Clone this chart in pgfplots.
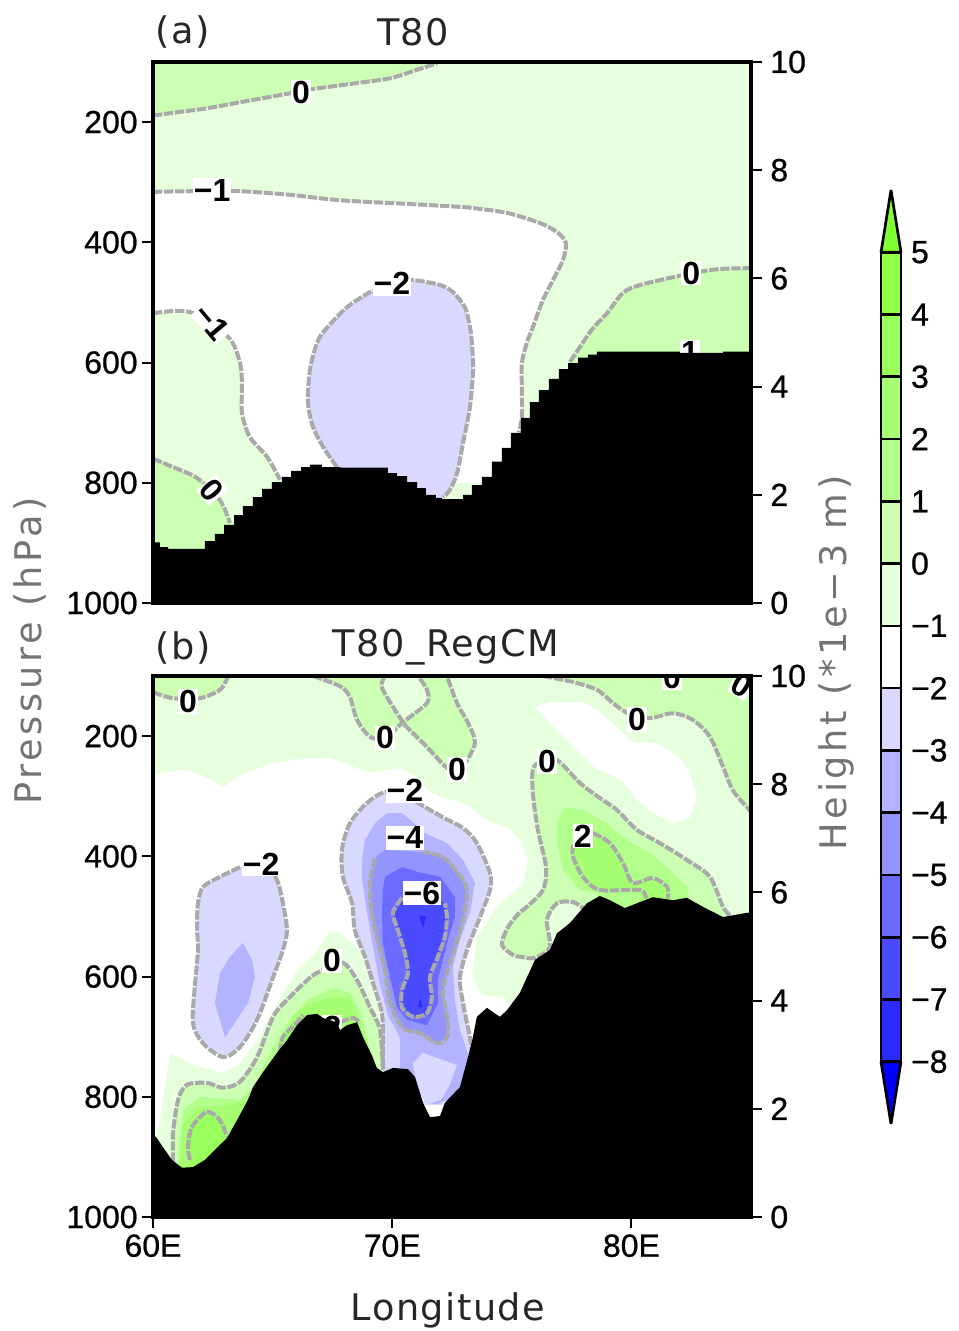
\documentclass[border=0pt]{standalone}
\usepackage{pgfplots}
\pgfplotsset{compat=1.18}
\usepackage{fontspec}
\setmainfont{Liberation Sans}
\newfontfamily\tickf[FakeBold=0.7]{Liberation Sans}
\newfontfamily\wideA[LetterSpace=10]{DejaVu Sans}
\newfontfamily\wideB[LetterSpace=4]{DejaVu Sans}
\definecolor{gA}{HTML}{E6FFDC}
\definecolor{gB}{HTML}{CCFFB3}
\definecolor{gC}{HTML}{B3FF8C}
\definecolor{gD}{HTML}{A6FF73}
\definecolor{gE}{HTML}{99FF5C}
\definecolor{gF}{HTML}{90FF47}
\definecolor{gG}{HTML}{80FF33}
\definecolor{bA}{HTML}{D9D9FF}
\definecolor{bB}{HTML}{B3B3FF}
\definecolor{bC}{HTML}{9494FF}
\definecolor{bD}{HTML}{6B6BFF}
\definecolor{bE}{HTML}{4A4AFF}
\definecolor{bF}{HTML}{2B2BFF}
\definecolor{bG}{HTML}{0000FF}
\definecolor{cgray}{HTML}{A9A9A9}
\newcommand\ticksz{\tickf\fontsize{24}{24}\selectfont}
\tikzset{lab/.style={fill=white, inner sep=0.8pt, text=black, font=\fontsize{24}{24}\selectfont\bfseries}}
\pgfplotsset{
  mainax/.style={
    scale only axis, width=448.5pt, height=405.75pt,
    xmin=60, xmax=85, ymin=100, ymax=1000, y dir=reverse,
    axis on top, no markers,
    ytick={200,400,600,800,1000},
    xtick pos=bottom, ytick pos=left, tick align=outside,
    major tick length=8pt,
    tick style={line width=1.5pt, black},
    axis line style={line width=2.7pt},
    ticklabel style={font=\ticksz},
    scaled y ticks=false,
    /pgf/number format/assume math mode=true,
    /pgf/number format/1000 sep={},
    axis background/.style={fill=gA},
  },
  rightax/.style={
    scale only axis, width=448.5pt, height=405.75pt,
    xmin=60, xmax=85, ymin=0, ymax=10,
    axis y line=right, axis x line=none, xtick=\empty,
    ytick={0,2,4,6,8,10}, tick align=outside, major tick length=8pt,
    tick style={line width=1.5pt, black},
    axis line style={-, line width=2.7pt},
    ticklabel style={font=\ticksz},
    yticklabel style={xshift=3pt},
    /pgf/number format/assume math mode=true,
  },
  reg/.style={fill=#1, draw=none, forget plot},
  cont/.style={draw=cgray, line width=3pt, dash pattern=on 7pt off 1.3pt, smooth, tension=0.5, forget plot},
}
\begin{document}
\begin{tikzpicture}
\path[use as bounding box] (0,0) rectangle (718.5pt,998.25pt);
% ---------- panel a ----------
\begin{axis}[mainax, at={(114.75pt,546pt)}, anchor=south west, xtick=\empty]
\addplot[reg=gB] coordinates {(60,100)(60,189)(60.13,188)(61.13,183)(62.26,177)(63.64,167)(65.73,152)(66.69,145)(68.53,135)(69.91,127)(71.04,113)(71.87,102)(71.9,100)} -- cycle;
\addplot[reg=white] coordinates {(60,316)(61.55,315)(63.64,315)(65.73,321)(67.82,330)(70.62,336)(72.83,341)(73.38,343)(74.8,351)(76.18,368)(76.89,383)(77.26,401)(77.14,429)(76.72,463)(76.3,496)(75.88,541)(75.63,567)(75.42,601)(75.42,641)(75.42,691)(75.3,716)(75.3,800)(65.31,800)(65.31,795)(64.77,757)(64.05,724)(63.72,684)(63.72,641)(63.64,601)(63.14,557)(61.55,516)(60,518)} -- cycle;
\addplot[reg=bA] coordinates {(69.07,483)(69.99,468)(70.87,463)(72,471)(72.54,483)(73.04,508)(73.25,541)(73.33,567)(73.38,612)(73.25,674)(72.96,734)(72.71,784)(72.41,812)(72.12,824)(72.12,840)(67.69,840)(67.69,774)(67.11,740)(66.69,707)(66.48,667)(66.56,612)(66.86,567)(67.19,546)(68.11,508)} -- cycle;
\addplot[reg=gB] coordinates {(60,760)(60.84,774)(61.84,792)(62.8,829)(63.22,867)(63.22,950)(60,950)} -- cycle;
\addplot[reg=gB] coordinates {(77.43,599)(77.97,567)(78.39,543)(78.98,518)(79.65,484)(80.36,471)(81.74,458)(82.99,448)(83.83,444)(85,443)(85,650)(77.43,650)} -- cycle;
% contours
\addplot[cont] coordinates {(60,189)(61.13,183)(62.26,177)(63.64,167)(65.73,152)(66.69,145)(68.53,135)(69.91,127)(71.04,113)(71.87,102)};
\addplot[cont] coordinates {(60,316)(61.55,315)(63.64,315)(65.73,321)(67.82,330)(70.62,336)(72.83,341)(73.38,343)(74.8,351)(76.18,368)(76.89,383)(77.26,401)(77.14,429)(76.72,463)(76.3,496)(75.88,541)(75.63,567)(75.42,601)(75.42,641)(75.42,691)(75.3,716)};
\addplot[cont] coordinates {(60,518)(61.55,516)(63.14,557)(63.64,601)(63.72,641)(63.72,684)(64.05,724)(64.77,757)(65.31,795)};
\addplot[cont] coordinates {(67.69,774)(67.11,740)(66.69,707)(66.48,667)(66.56,612)(66.86,567)(67.19,546)(68.11,508)(69.07,483)(69.99,468)(70.87,463)(72,471)(72.54,483)(73.04,508)(73.25,541)(73.33,567)(73.38,612)(73.25,674)(72.96,734)(72.71,784)(72.41,812)(72.12,824)};
\addplot[cont] coordinates {(60,760)(60.84,774)(61.84,792)(62.8,829)(63.22,867)};
\addplot[cont] coordinates {(77.43,599)(77.97,567)(78.39,543)(78.98,518)(79.65,484)(80.36,471)(81.74,458)(82.99,448)(83.83,444)(85,443)};
\node[lab] at (axis cs:82.45,583) {1};
% terrain
\addplot[fill=black, draw=none, const plot, forget plot] coordinates {(60,899)(60.29,907)(60.63,910)(62.17,897)(62.59,885)(62.97,870)(63.39,854)(63.76,839)(64.18,824)(64.56,810)(64.97,799)(65.39,790)(65.77,780)(66.19,774)(66.56,770)(67.06,774)(67.82,775)(69.82,784)(70.2,789)(70.62,799)(71.04,809)(71.41,820)(71.83,825)(72.08,827)(72.96,820)(73.33,804)(73.75,790)(74.17,765)(74.59,742)(74.96,717)(75.38,692)(75.76,666)(76.13,646)(76.55,627)(76.97,611)(77.35,601)(77.77,592)(78.18,587)(78.56,582)(81.32,582)(82.03,584)(83.83,582)(85,582)(85,1000)(60,1000)} -- cycle;
% contour labels
\node[lab] at (axis cs:66.19,150) {0};
\node[lab] at (axis cs:62.47,313) {−1};
\node[lab, rotate=-50] at (axis cs:62.47,533) {−1};
\node[lab] at (axis cs:69.99,469) {−2};
\node[lab, rotate=-50] at (axis cs:62.47,812) {0};
\node[lab] at (axis cs:82.5,451) {0};
\end{axis}
\begin{axis}[rightax, at={(114.75pt,546pt)}, anchor=south west]
\end{axis}
% ---------- panel b ----------
\begin{axis}[mainax, at={(114.75pt,85.5pt)}, anchor=south west,
  xtick={60,70,80}, xticklabels={60E,70E,80E}, xticklabel style={yshift=-1.5pt}]
% 0..1 top regions
\addplot[reg=gB] coordinates {(60,100)(60,127)(60.84,137)(61.96,137)(62.8,123)(63.09,105)(63.14,100)} -- cycle;
\addplot[reg=gB] coordinates {(66.69,100)(67.82,117)(68.23,135)(68.53,173)(69.07,201)(69.7,203)(70.45,177)(69.61,123)(69.61,107)(69.7,100)(71.08,100)(71.45,123)(71.45,145)(70.45,177)(70.74,190)(71.45,218)(72.29,253)(72.71,256)(73.13,240)(73.46,210)(73.17,178)(72.71,145)(72.29,100)} -- cycle;
\addplot[reg=gB] coordinates {(76.3,100)(77.56,110)(78.56,123)(79.23,145)(79.86,162)(80.77,170)(81.74,162)(82.57,173)(83.28,201)(83.83,251)(84.24,290)(84.87,320)(85,326)(85,100)} -- cycle;
% white
\addplot[reg=white] coordinates {(75.97,152)(76.59,143)(77.97,143)(78.68,160)(79.4,185)(80.06,210)(81.07,211)(82.03,235)(82.45,261)(82.74,301)(82.45,336)(81.74,345)(80.9,328)(80.23,306)(79.52,270)(78.56,256)(77.85,228)(77.01,195)} -- cycle;
\addplot[reg=white] coordinates {(60,265)(61.25,255)(62.26,270)(62.93,285)(63.64,265)(65.02,245)(66.44,236)(67.4,236)(68.36,251)(69.07,261)(70.32,253)(71.04,268)(71.58,293)(72,301)(72.96,311)(74.09,343)(74.92,353)(75.34,373)(75.68,406)(75.47,444)(74.38,484)(73.54,534)(73.33,601)(73.75,631)(74.63,636)(74.92,647)(74.92,839)(69.61,839)(69.61,755)(69.41,639)(68.65,556)(67.82,526)(67.4,523)(66.86,556)(66.02,589)(65.02,656)(64.35,706)(63.64,744)(62.93,760)(61.67,747)(60.71,727)(60.29,839)(60.13,867)(60,872)} -- cycle;
% green, right
\addplot[reg=gB] coordinates {(75.88,256)(76.18,243)(76.89,240)(77.85,278)(78.68,303)(79.4,323)(80.23,356)(81.19,378)(82.32,406)(83.28,434)(83.83,484)(84.12,498)(84.12,539)(77.97,539)(77.97,486)(77.56,476)(76.89,478)(76.47,506)(76.59,551)(75.97,569)(75.34,567)(75.05,564)(74.59,547)(74.84,518)(75.34,493)(75.63,484)(76.3,456)(76.43,418)(76.09,356)(75.88,295)} -- cycle;
\addplot[reg=gC] coordinates {(77.22,318)(77.97,323)(78.98,345)(79.81,373)(80.77,394)(81.61,423)(82.36,451)(82.36,506)(78.68,506)(78.56,461)(77.85,456)(77.14,423)(76.89,378)(76.93,340)} -- cycle;
\addplot[reg=gD] coordinates {(77.56,381)(77.85,365)(78.39,361)(79.1,378)(79.65,411)(80.06,444)(80.9,436)(81.49,451)(81.53,481)(80.44,481)(80.36,456)(78.68,456)(77.97,434)(77.56,401)} -- cycle;
% green, left
\addplot[reg=gB] coordinates {(60.84,915)(60.84,860)(61.05,805)(61.42,780)(62.26,777)(62.93,785)(63.64,775)(64.35,734)(65.02,667)(65.6,639)(66.56,602)(67.11,589)(67.94,577)(68.53,606)(69.07,651)(69.49,689)(69.61,755)(69.61,820)(65,900)(61.5,960)(60.84,960)} -- cycle;
\addplot[reg=gC] coordinates {(61.05,894)(61.25,822)(61.96,800)(63.64,805)(64.18,784)(65.02,717)(65.6,677)(66.44,639)(67.52,619)(68.23,627)(68.65,656)(69.07,722)(69.07,800)(65,900)(61.5,960)(61.05,960)} -- cycle;
\addplot[reg=gD] coordinates {(61.13,913)(61.25,847)(61.76,819)(63.22,814)(63.85,805)(64,900)(61.5,960)(61.13,960)} -- cycle;
\addplot[reg=gE] coordinates {(61.55,905)(61.46,884)(61.63,850)(62.26,825)(62.8,839)(63.09,867)(63,950)(61.6,950)} -- cycle;
\addplot[reg=gD] coordinates {(65.02,739)(65.85,667)(66.44,647)(67.52,634)(68.23,636)(68.53,661)(68.95,706)(68.95,789)(65.31,789)} -- cycle;
\addplot[reg=gE] coordinates {(65.31,727)(65.43,701)(66.02,676)(66.27,664)(66.5,700)(65.6,760)} -- cycle;
% blue, centre
\addplot[reg=bA] coordinates {(69.7,293)(70.53,298)(71.24,315)(72.12,335)(72.96,353)(73.54,378)(74.09,428)(74.09,456)(73.67,501)(73.17,551)(72.83,601)(72.96,644)(73.25,701)(73.33,739)(72.08,814)(71.45,814)(70.74,764)(69.61,764)(69.61,750)(69.61,711)(69.57,661)(69.2,611)(68.86,567)(68.44,523)(68.32,478)(67.94,434)(67.9,389)(68.23,345)(68.95,311)} -- cycle;
\addplot[reg=bB] coordinates {(69.78,328)(70.41,328)(70.87,343)(71.29,360)(72.29,378)(72.96,406)(73.46,444)(73.25,494)(72.83,539)(72.54,584)(72.62,639)(72.83,689)(73.25,739)(73.25,790)(71.9,812)(71.4,812)(70.9,764)(70.32,764)(70.32,701)(69.82,664)(69.49,614)(69.2,551)(68.95,494)(68.74,439)(68.74,406)(68.86,373)(69.28,345)} -- cycle;
\addplot[reg=bA] coordinates {(70.87,744)(71.29,727)(72.71,747)(72.41,780)(72.04,805)(71.37,814)(70.95,764)} -- cycle;
\addplot[reg=bC] coordinates {(69.28,403)(69.7,389)(71.29,393)(72.12,401)(72.75,428)(73.13,456)(72.96,506)(72.62,551)(72.29,594)(72.12,627)(72.33,677)(72.29,701)(71.91,711)(71.16,694)(70.45,686)(69.91,644)(69.7,589)(69.41,544)(69.15,494)(69.07,444)} -- cycle;
\addplot[reg=bD] coordinates {(69.7,434)(70.41,418)(71.08,426)(72,434)(72.62,468)(72.62,501)(72.33,539)(72.12,572)(71.91,606)(71.91,644)(71.45,681)(70.62,672)(70.2,651)(69.91,601)(69.61,544)(69.57,494)(69.61,456)} -- cycle;
\addplot[reg=bE] coordinates {(70.41,469)(70.03,494)(70.24,523)(70.53,561)(70.66,594)(70.41,622)(70.41,651)(70.87,667)(71.45,661)(71.66,634)(71.58,601)(71.91,567)(72.2,534)(72.29,501)(72.2,478)(71.58,464)(70.95,461)} -- cycle;
\addplot[reg=bF] coordinates {(71.12,499)(71.41,499)(71.29,519)} -- cycle;
\addplot[reg=bF] coordinates {(71.16,636)(71.08,651)(71.29,651)} -- cycle;
% blue, left
\addplot[reg=bA] coordinates {(63.64,418)(62.8,434)(62.09,451)(61.88,478)(61.84,518)(61.88,556)(61.76,611)(61.67,677)(62.09,711)(62.93,734)(63.64,717)(64.35,672)(65.02,601)(65.43,556)(65.6,523)(65.43,478)(65.18,439)(64.68,416)} -- cycle;
\addplot[reg=bB] coordinates {(63.76,544)(64.14,572)(64.26,601)(63.97,644)(63.01,701)(62.59,644)(62.8,594)(63.22,567)} -- cycle;
% contours
\addplot[cont] coordinates {(60,127)(60.84,137)(61.96,137)(62.8,123)(63.09,105)(63.14,100)};
\addplot[cont] coordinates {(66.69,100)(67.82,117)(68.23,135)(68.53,173)(69.07,201)(69.7,203)(70.45,177)(71.45,145)(71.45,123)(71.08,100)};
\addplot[cont] coordinates {(69.7,100)(69.61,107)(69.61,123)(70.45,177)(70.74,190)(71.45,218)(72.29,253)(72.71,256)(73.13,240)(73.46,210)(73.17,178)(72.71,145)(72.29,100)};
\addplot[cont] coordinates {(76.3,100)(77.56,110)(78.56,123)(79.23,145)(79.86,162)(80.77,170)(81.74,162)(82.57,173)(83.28,201)(83.83,251)(84.24,290)(84.87,320)(85,326)};
\addplot[cont] coordinates {(84.12,498)(83.83,484)(83.28,434)(82.32,406)(81.19,378)(80.23,356)(79.4,323)(78.68,303)(77.85,278)(76.89,240)(76.18,243)(75.88,256)(75.88,295)(76.09,356)(76.43,418)(76.3,456)(75.63,484)(75.34,493)(74.84,518)(74.59,547)(75.05,564)(75.34,567)(75.97,569)(76.59,551)(76.47,506)(76.89,478)(77.56,476)(77.97,486)};
\addplot[cont] coordinates {(78.39,361)(79.1,378)(79.65,411)(80.06,444)(80.9,436)(81.49,451)(81.53,470)};
\addplot[cont] coordinates {(77.56,381)(77.56,401)(77.97,434)(78.68,456)(80.36,456)(80.6,470)};
\addplot[cont] coordinates {(60.84,908)(60.84,860)(61.05,805)(61.42,780)(62.26,777)(62.93,785)(63.64,775)(64.35,734)(65.02,667)(65.6,639)(66.56,602)(67.11,589)(67.94,577)(68.53,606)(69.07,651)(69.49,689)(69.61,755)};
\addplot[cont] coordinates {(61.55,905)(61.46,884)(61.63,850)(62.26,825)(62.8,839)(63.09,867)};
\addplot[cont] coordinates {(65.31,727)(65.43,701)(66.02,676)(66.27,664)};
\addplot[cont] coordinates {(67.82,676)(68.36,669)(68.65,677)};
\addplot[cont] coordinates {(63.64,418)(62.8,434)(62.09,451)(61.88,478)(61.84,518)(61.88,556)(61.76,611)(61.67,677)(62.09,711)(62.93,734)(63.64,717)(64.35,672)(65.02,601)(65.43,556)(65.6,523)(65.43,478)(65.18,439)(64.68,416)};
\addplot[cont] coordinates {(69.61,750)(69.61,711)(69.57,661)(69.2,611)(68.86,567)(68.44,523)(68.32,478)(67.94,434)(67.9,389)(68.23,345)(68.95,311)(69.7,293)(70.53,298)(71.24,315)(72.12,335)(72.96,353)(73.54,378)(74.09,428)(74.09,456)(73.67,501)(73.17,551)(72.83,601)(72.96,644)(73.25,701)(73.33,725)};
\addplot[cont] coordinates {(69.28,403)(69.07,444)(69.15,494)(69.41,544)(69.7,589)(69.91,644)(70.45,686)(71.16,694)(71.91,711)(72.29,701)(72.33,677)(72.12,627)(72.29,594)(72.62,551)(72.96,506)(73.13,456)(72.75,428)(72.12,401)(71.29,393)};
\addplot[cont] coordinates {(70.41,469)(70.03,494)(70.24,523)(70.53,561)(70.66,594)(70.41,622)(70.41,651)(70.87,667)(71.45,661)(71.66,634)(71.58,601)(71.91,567)(72.2,534)(72.29,501)(72.2,478)};
\node[lab] at (axis cs:67.5,684) {2};
% terrain
\addplot[fill=black, draw=none, forget plot] coordinates {(60,864)(60.13,867)(60.42,884)(60.79,905)(61.21,918)(61.67,917)(62.17,905)(62.8,880)(63.09,869)(63.51,839)(63.97,805)(64.18,784)(64.6,759)(65.18,727)(65.6,706)(66.02,681)(66.44,664)(66.86,662)(67.11,669)(67.69,676)(67.82,689)(68.11,681)(68.53,676)(68.78,701)(69.15,731)(69.36,752)(69.61,759)(70.03,752)(70.66,754)(70.95,767)(71.29,810)(71.58,834)(72,832)(72.2,810)(72.83,784)(73.17,734)(73.33,709)(73.54,667)(73.96,652)(74.5,667)(74.8,656)(75.34,627)(75.97,572)(76.59,556)(76.89,528)(77.43,511)(78.14,478)(78.68,466)(79.1,473)(79.73,486)(80.36,476)(80.9,468)(81.74,473)(82.32,469)(82.99,484)(83.83,501)(84.83,494)(85,493)(85,1000)(60,1000)} -- cycle;
% contour labels
\node[lab] at (axis cs:61.46,143) {0};
\node[lab] at (axis cs:69.7,203) {0};
\node[lab] at (axis cs:72.71,256) {0};
\node[lab] at (axis cs:76.47,243) {0};
\node[lab] at (axis cs:80.23,172) {0};
\node[lab] at (axis cs:81.7,102) {0};
\node[lab, rotate=-30] at (axis cs:84.62,115) {0};
\node[lab] at (axis cs:70.53,291) {−2};
\node[lab] at (axis cs:70.53,369) {−4};
\node[lab] at (axis cs:71.24,461) {−6};
\node[lab] at (axis cs:64.52,413) {−2};
\node[lab] at (axis cs:67.48,574) {0};
\node[lab] at (axis cs:77.97,366) {2};
\end{axis}
\begin{axis}[rightax, at={(114.75pt,85.5pt)}, anchor=south west]
\end{axis}
% ---------- colour bar ----------
\begin{axis}[scale only axis, width=15pt, height=700.5pt,
  at={(660.75pt,155.25pt)}, anchor=south west,
  xmin=0, xmax=1, ymin=-9, ymax=6, clip=false, no markers,
  xtick=\empty, ytick={-8,-7,-6,-5,-4,-3,-2,-1,0,1,2,3,4,5},
  yticklabels={−8,−7,−6,−5,−4,−3,−2,−1,0,1,2,3,4,5},
  ytick pos=right, yticklabel pos=right, major tick length=0pt,
  yticklabel style={font=\ticksz, xshift=4pt},
  axis line style={draw=none}]
\pgfplotsset{seg/.style={fill=#1, draw=black, line width=2pt, line join=bevel, forget plot}}
\addplot[seg=bG] coordinates {(0,-8)(0.5,-9)(1,-8)} -- cycle;
\addplot[seg=bF] coordinates {(0,-8)(1,-8)(1,-7)(0,-7)} -- cycle;
\addplot[seg=bE] coordinates {(0,-7)(1,-7)(1,-6)(0,-6)} -- cycle;
\addplot[seg=bD] coordinates {(0,-6)(1,-6)(1,-5)(0,-5)} -- cycle;
\addplot[seg=bC] coordinates {(0,-5)(1,-5)(1,-4)(0,-4)} -- cycle;
\addplot[seg=bB] coordinates {(0,-4)(1,-4)(1,-3)(0,-3)} -- cycle;
\addplot[seg=bA] coordinates {(0,-3)(1,-3)(1,-2)(0,-2)} -- cycle;
\addplot[seg=white] coordinates {(0,-2)(1,-2)(1,-1)(0,-1)} -- cycle;
\addplot[seg=gA] coordinates {(0,-1)(1,-1)(1,0)(0,0)} -- cycle;
\addplot[seg=gB] coordinates {(0,0)(1,0)(1,1)(0,1)} -- cycle;
\addplot[seg=gC] coordinates {(0,1)(1,1)(1,2)(0,2)} -- cycle;
\addplot[seg=gD] coordinates {(0,2)(1,2)(1,3)(0,3)} -- cycle;
\addplot[seg=gE] coordinates {(0,3)(1,3)(1,4)(0,4)} -- cycle;
\addplot[seg=gF] coordinates {(0,4)(1,4)(1,5)(0,5)} -- cycle;
\addplot[seg=gG] coordinates {(0,5)(1,5)(0.5,6)} -- cycle;
\end{axis}
% ---------- text ----------
\newcommand\titlesz{\fontsize{27.5}{28}\selectfont}
\node[anchor=center, font=\wideB\titlesz, text=black!85] at (309.75pt,974pt) {T80};
\node[anchor=center, font=\wideB\titlesz, text=black!85] at (137.25pt,974pt) {(a)};
\node[anchor=center, font=\wideB\titlesz, text=black!85] at (334.5pt,512.5pt) {T80\_RegCM};
\node[anchor=center, font=\wideB\titlesz, text=black!85] at (137.25pt,512.5pt) {(b)};
\node[anchor=center, font=\wideA\titlesz, text=black!55, rotate=90] at (22.5pt,510pt) {Pressure (hPa)};
\node[anchor=center, font=\wideA\titlesz, text=black!55, rotate=90] at (627pt,501pt) {Height (*1e−3 m)};
\node[anchor=center, font=\wideB\titlesz, text=black!85] at (336pt,15.5pt) {Longitude};
\end{tikzpicture}
\end{document}
